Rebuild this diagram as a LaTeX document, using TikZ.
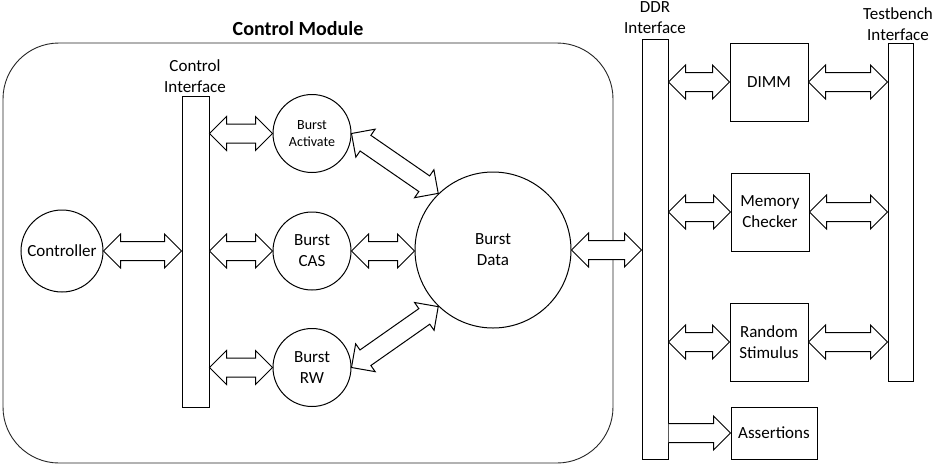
\documentclass[tikz,border=0pt]{standalone}
\usepackage{fontspec}
\setmainfont{Carlito}
\usetikzlibrary{calc}

% Hollow double-headed block arrow from #1 to #2
\newcommand\biarrow[2]{%
  \draw[fatline] let \p1=(#1), \p2=(#2),
      \n1={atan2(\y2-\y1,\x2-\x1)}, \n2={veclen(\x2-\x1,\y2-\y1)} in
    ([shift={(\p1)},rotate=\n1]0pt,0pt)
    -- ([shift={(\p1)},rotate=\n1]17pt,17pt)
    -- ([shift={(\p1)},rotate=\n1]17pt,9.5pt)
    -- ([shift={(\p1)},rotate=\n1]\n2-17pt,9.5pt)
    -- ([shift={(\p1)},rotate=\n1]\n2-17pt,17pt)
    -- ([shift={(\p1)},rotate=\n1]\n2,0pt)
    -- ([shift={(\p1)},rotate=\n1]\n2-17pt,-17pt)
    -- ([shift={(\p1)},rotate=\n1]\n2-17pt,-9.5pt)
    -- ([shift={(\p1)},rotate=\n1]17pt,-9.5pt)
    -- ([shift={(\p1)},rotate=\n1]17pt,-17pt)
    -- cycle;}

% Hollow single-headed block arrow from #1 to #2 (open tail)
\newcommand\onearrow[2]{%
  \draw[fatline] let \p1=(#1), \p2=(#2),
      \n1={atan2(\y2-\y1,\x2-\x1)}, \n2={veclen(\x2-\x1,\y2-\y1)} in
    ([shift={(\p1)},rotate=\n1]0pt,9.5pt)
    -- ([shift={(\p1)},rotate=\n1]\n2-17pt,9.5pt)
    -- ([shift={(\p1)},rotate=\n1]\n2-17pt,17pt)
    -- ([shift={(\p1)},rotate=\n1]\n2,0pt)
    -- ([shift={(\p1)},rotate=\n1]\n2-17pt,-17pt)
    -- ([shift={(\p1)},rotate=\n1]\n2-17pt,-9.5pt)
    -- ([shift={(\p1)},rotate=\n1]0pt,-9.5pt);}

\begin{document}
\begin{tikzpicture}[x=1pt,y=-1pt,
  every node/.style={font=\fontsize{17}{21}\selectfont, align=center, inner sep=0pt},
  fatline/.style={draw=black, line width=1pt, fill=white, line join=miter},
  unit/.style={draw=black, line width=1pt, circle},
  blockbox/.style={draw=black, line width=1pt, rectangle},
  bar/.style={draw=black, line width=1pt, rectangle},
  caption/.style={font=\fontsize{17}{21}\selectfont},
  small/.style={font=\fontsize{14}{17}\selectfont},
  title/.style={font=\fontsize{20}{24}\selectfont\bfseries}]

\useasboundingbox (0,0) rectangle (939,469);
\fill[white] (0,0) rectangle (939,469);

% Control module frame
\draw[line width=0.9pt, draw=black!85, rounded corners=56pt] (3,43) rectangle (613,463);
\node[title] (cmtitle) at (298,29) {Control Module};

% Control module contents
\node[unit, minimum size=82pt] (ctrl) at (62,251) {Controller};
\node[bar, minimum width=27pt, minimum height=311pt] (ci) at (195.5,251.5) {};
\node[caption] (cilabel) at (195,76) {Control\\Interface};
\node[unit, minimum size=78pt, small] (ba) at (312,133.5) {Burst\\Activate};
\node[unit, minimum size=78pt] (bc) at (312,251) {Burst\\CAS};
\node[unit, minimum size=78pt] (brw) at (312,367.5) {Burst\\RW};
\node[unit, minimum size=156pt] (bd) at (493,250) {Burst\\Data};

% Interfaces
\node[bar, minimum width=26pt, minimum height=420pt] (ddr) at (655,249) {};
\node[caption] (ddrlabel) at (655,18) {DDR\\Interface};
\node[bar, minimum width=25pt, minimum height=338pt] (tb) at (900.5,212) {};
\node[caption] (tblabel) at (898,24) {Testbench\\Interface};

% Testbench components
\node[blockbox, minimum width=78pt, minimum height=78pt] (dimm) at (769,82) {DIMM};
\node[blockbox, minimum width=78pt, minimum height=78pt] (mc) at (770,212) {Memory\\Checker};
\node[blockbox, minimum width=78pt, minimum height=78pt] (rs) at (769,342) {Random\\Stimulus};
\node[blockbox, minimum width=86pt, minimum height=52pt] (as) at (774,433) {Assertions};

% Block arrows
\biarrow{ctrl.east}{ctrl.east -| ci.west}
\biarrow{ci.east |- ba.west}{ba.west}
\biarrow{ci.east |- bc.west}{bc.west}
\biarrow{ci.east |- brw.west}{brw.west}
\biarrow{bc.east}{bc.east -| bd.west}
\biarrow{ba.east}{bd.134}
\biarrow{brw.east}{bd.226}
\biarrow{bd.east}{bd.east -| ddr.west}
\biarrow{ddr.east |- dimm.west}{dimm.west}
\biarrow{dimm.east}{dimm.east -| tb.west}
\biarrow{ddr.east |- mc.west}{mc.west}
\biarrow{mc.east}{mc.east -| tb.west}
\biarrow{ddr.east |- rs.west}{rs.west}
\biarrow{rs.east}{rs.east -| tb.west}
\onearrow{ddr.east |- as.west}{as.west}

\end{tikzpicture}
\end{document}
